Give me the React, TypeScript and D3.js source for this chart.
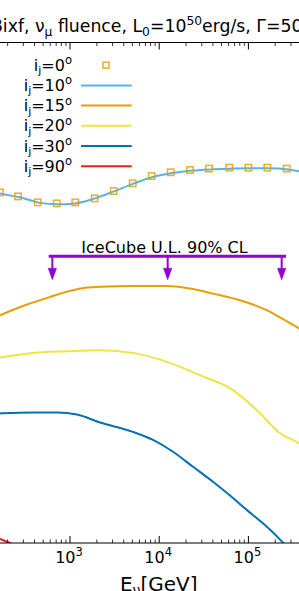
import React from "react";
import * as d3 from "d3";

// i_j = 0 deg (open squares)
const energy0 = [164, 261, 434, 710, 1146, 1891, 3090, 5047, 8241, 13460, 22130, 36140, 61090, 100000, 163000, 268700];
const fluence0 = [0.0318, 0.029, 0.0253, 0.0247, 0.0253, 0.0277, 0.0328, 0.0392, 0.0463, 0.0505, 0.0532, 0.055, 0.0562, 0.0562, 0.0562, 0.055];

// i_j = 10 deg
const energy10 = [111, 164, 275, 461, 715, 1138, 1905, 3111, 5079, 8300, 13550, 22130, 37150, 62230, 104300, 174600, 277700, 368700, 490000];
const fluence10 = [0.0349, 0.0311, 0.0284, 0.025, 0.0242, 0.0247, 0.0277, 0.0326, 0.0387, 0.045, 0.0493, 0.0522, 0.054, 0.0549, 0.0553, 0.0553, 0.054, 0.0516, 0.0482];

// i_j = 15 deg
const energy15 = [111, 164, 313, 597, 1000, 1473, 2170, 5080, 12220, 22130, 40090, 80540, 161800, 257000, 368700, 490000];
const fluence15 = [0.00161, 0.00188, 0.00237, 0.00287, 0.0033, 0.00355, 0.00363, 0.0037, 0.0037, 0.00348, 0.0031, 0.00266, 0.00211, 0.00168, 0.00139, 0.00116];

// i_j = 20 deg
const energy20 = [111, 164, 385, 925, 2170, 5080, 12220, 28640, 67140, 124700, 225900, 368700, 490000];
const fluence20 = [0.00067, 0.000713, 0.000793, 0.000824, 0.000843, 0.000793, 0.000645, 0.000475, 0.000337, 0.000212, 0.000125, 0.0000988, 0.0000809];

// i_j = 30 deg
const energy30 = [111, 164, 385, 715, 1198, 2170, 5080, 8530, 14290, 23940, 40090, 62230, 96400, 153500, 244300, 332700];
const fluence30 = [0.000194, 0.000197, 0.000201, 0.000201, 0.000192, 0.00016, 0.000129, 0.000107, 0.0000815, 0.0000577, 0.0000409, 0.0000298, 0.0000213, 0.0000151, 0.0000101, 0.0000074];

// i_j = 90 deg
const energy90 = [76, 111, 164, 212, 313];
const fluence90 = [0.0000145, 0.0000126, 0.000011, 0.00001, 0.0000085];

// IceCube upper limit
const icRange = [577, 263700];
const icArrows = [634, 12450, 236000];
const icLimit = 0.00731;

const angles = ["0", "10", "15", "20", "30", "90"];
const colors = ["#E69F00", "#56B4E9", "#E69F00", "#F0E442", "#0072B2", "#E8221E"];
const decades = [1e2, 1e3, 1e4, 1e5, 1e6];

const W = 299;
const H = 591;
const top = 42.5;
const bottom = 543;

export default function App() {
  const x = d3.scaleLog().domain([1e2, 1e6]).range([-19.2, 337.6]);
  const y = d3.scaleLog().domain([1e-5, 1]).range([bottom, top]);

  const line = (es: number[], fs: number[]) =>
    d3
      .line<number>()
      .x((_, i) => x(es[i]))
      .y((d) => y(d))
      .curve(d3.curveMonotoneX)(fs) || "";

  const series = [
    { e: energy10, f: fluence10, c: colors[1] },
    { e: energy15, f: fluence15, c: colors[2] },
    { e: energy20, f: fluence20, c: colors[3] },
    { e: energy30, f: fluence30, c: colors[4] },
    { e: energy90, f: fluence90, c: colors[5] },
  ];

  const minor = x.ticks().filter((t) => !decades.includes(t));
  const icY = y(icLimit);

  return (
    <svg
      width={W}
      height={H}
      style={{ position: "absolute", left: 0, top: 0, background: "#fff" }}
      fontFamily="DejaVu Sans"
    >
      <defs>
        <clipPath id="plot">
          <rect x={-50} y={top} width={400} height={bottom - top} />
        </clipPath>
      </defs>

      {/* title (cut by the figure edges) */}
      <text x={-9} y={32} fontSize={17.3} fill="#000">
        Bixf, ν<tspan fontSize={12.3} dy={4}>μ</tspan>
        <tspan dy={-4}> fluence, L</tspan>
        <tspan fontSize={12.3} dy={4}>0</tspan>
        <tspan dy={-4}>=10</tspan>
        <tspan fontSize={12.3} dy={-7.5}>50</tspan>
        <tspan dy={7.5}>erg/s, Γ=50</tspan>
      </text>

      <g clipPath="url(#plot)">
        {series.map((s, i) => (
          <path key={i} d={line(s.e, s.f)} fill="none" stroke={s.c} strokeWidth={2} />
        ))}
        {energy0.map((e, i) => (
          <rect
            key={i}
            x={x(e) - 3.2}
            y={y(fluence0[i]) - 3.2}
            width={6.4}
            height={6.4}
            fill="none"
            stroke={colors[0]}
            strokeOpacity={0.85}
            strokeWidth={1.5}
          />
        ))}
      </g>

      {/* IceCube UL */}
      <g stroke="#9400D3" fill="#9400D3">
        <line x1={x(icRange[0])} x2={x(icRange[1])} y1={icY} y2={icY} strokeWidth={3} />
        {icArrows.map((e, i) => (
          <g key={i}>
            <line x1={x(e)} x2={x(e)} y1={icY} y2={icY + 13} strokeWidth={2} />
            <path
              d={`M${x(e) - 4.2},${icY + 12}L${x(e) + 4.2},${icY + 12}L${x(e)},${icY + 23.5}Z`}
              strokeWidth={0.5}
            />
          </g>
        ))}
      </g>
      <text x={164.5} y={252.7} fontSize={16} textAnchor="middle" fill="#000">
        IceCube U.L. 90% CL
      </text>

      {/* axes */}
      <line x1={-20} x2={W + 20} y1={top} y2={top} stroke="#000" strokeWidth={1} />
      <line x1={-20} x2={W + 20} y1={bottom} y2={bottom} stroke="#000" strokeWidth={1} />
      {decades.map((t) => (
        <g key={t} stroke="#000" strokeWidth={1}>
          <line x1={x(t)} x2={x(t)} y1={top} y2={top + 7} />
          <line x1={x(t)} x2={x(t)} y1={bottom} y2={bottom - 7} />
        </g>
      ))}
      {minor.map((t) => (
        <g key={t} stroke="#000" strokeWidth={0.8}>
          <line x1={x(t)} x2={x(t)} y1={top} y2={top + 3.5} />
          <line x1={x(t)} x2={x(t)} y1={bottom} y2={bottom - 3.5} />
        </g>
      ))}
      {decades.map((t) => (
        <text key={t} x={x(t) - 1} y={563.3} fontSize={16} textAnchor="middle" fill="#000">
          10<tspan fontSize={11.5} dy={-7}>{Math.round(Math.log10(t))}</tspan>
        </text>
      ))}
      <text x={158.7} y={590.5} fontSize={20} textAnchor="middle" fill="#000">
        E<tspan fontSize={14} dy={4}>ν</tspan>
        <tspan dy={-4}>[GeV]</tspan>
      </text>

      {/* legend */}
      {angles.map((a, i) => {
        const base = 70.7 + i * 20.2;
        const cy = base - 5.5;
        return (
          <g key={a}>
            <text x={72} y={base} fontSize={16} textAnchor="end" fill="#000">
              i<tspan fontSize={11} dy={3.5}>j</tspan>
              <tspan dy={-3.5}>={a}</tspan>
              <tspan fontSize={11.5} dy={-6.5}>o</tspan>
            </text>
            {i === 0 ? (
              <rect x={103} y={cy - 3} width={6} height={6} fill="none" stroke={colors[0]} strokeOpacity={0.85} strokeWidth={1.5} />
            ) : (
              <line x1={81} x2={131.7} y1={cy} y2={cy} stroke={colors[i]} strokeWidth={2} />
            )}
          </g>
        );
      })}
    </svg>
  );
}
